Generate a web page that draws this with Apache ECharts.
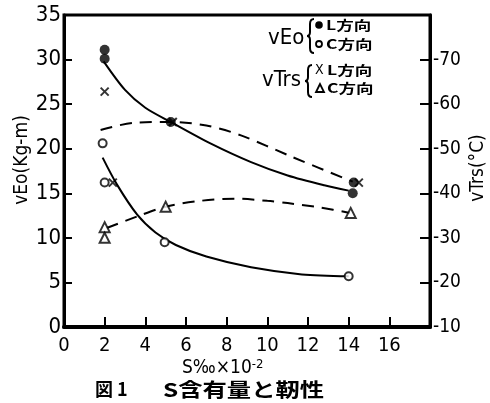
<!DOCTYPE html>
<html>
<head>
<meta charset="utf-8">
<script src="https://cdn.jsdelivr.net/npm/echarts@6/dist/echarts.min.js"></script>
<style>
  html, body { margin: 0; padding: 0; background: #fff; }
  #chart { width: 490px; height: 403px; }
</style>
</head>
<body>
<div id="chart"></div>
<script>
// x: S% x10^-2, left axis vEo (Kg-m), right axis vTrs (°C)
const xTicks = [0, 2, 4, 6, 8, 10, 12, 14, 16]
const veoTicks = [0, 5, 10, 15, 20, 25, 30, 35]
const trsTicks = [-70, -60, -50, -40, -30, -20, -10]

// measured points
const veoL = [[2, 31.1], [2, 30.1], [5.25, 23.0], [14.25, 16.2], [14.2, 15.0]]
const veoC = [[1.9, 20.6], [2.0, 16.2], [4.95, 9.5], [14.0, 5.7]]
const trsL = [[2.0, -62.8], [2.4, -42.4], [5.35, -56.0], [14.5, -42.4]]
const trsC = [[2.0, -32.4], [2.0, -30.0], [5.0, -37.0], [14.1, -35.6]]

// hand drawn trend curves
const veoLCurve = [[1.95, 29.8], [3, 26.6], [4, 24.6], [5.25, 23.0], [7.2, 20.6], [9.2, 18.5], [11, 17.0], [12.8, 15.9], [14.0, 15.3]]
const veoCCurve = [[1.9, 19.0], [2.6, 16.0], [3.6, 12.6], [4.5, 10.6], [5.5, 9.2], [7, 7.9], [9.2, 6.7], [11.7, 5.9], [14.0, 5.7]]
const trsLCurve = [[1.8, -54.2], [3.4, -55.8], [5.25, -56.0], [7, -55.2], [8.7, -53.0], [11.2, -48.2], [14.2, -42.6]]
const trsCCurve = [[2.1, -32.2], [3.6, -34.8], [5.0, -37.0], [6.7, -38.3], [8.4, -38.8], [10.0, -38.3], [11.0, -37.8], [12.6, -36.8], [14.06, -35.6]]

const numFont = "'DejaVu Sans Condensed', 'DejaVu Sans', sans-serif"
const cjkFont = "'Noto Sans CJK JP', sans-serif"

const chart = echarts.init(document.getElementById('chart'))

const curve = (data, yIndex, dashed) => ({
    type: 'line',
    yAxisIndex: yIndex,
    data,
    smooth: 0.3,
    showSymbol: false,
    silent: true,
    lineStyle: { color: '#000', width: 2, type: dashed ? [12, 8] : 'solid' }
})

const marks = (data, yIndex, symbol, size, filled) => ({
    type: 'scatter',
    yAxisIndex: yIndex,
    data,
    symbol,
    symbolSize: size,
    z: 5,
    itemStyle: filled
        ? { color: '#000' }
        : { color: '#fff', borderColor: '#000', borderWidth: 2 }
})

const crossPath = 'path://M0,0L10,10M10,0L0,10'

const keyText = (x, y, text) => ({
    type: 'text', x, y, scaleX: 1.35,
    style: { text, font: 'bold 13px ' + cjkFont, fill: '#000', textVerticalAlign: 'middle' }
})

// curly brace from top to bottom, tip pointing left
const brace = (x, top, bottom) => {
    const mid = (top + bottom) / 2
    const st = { fill: 'none', stroke: '#000', lineWidth: 2 }
    const q = (x1, y1, cpx1, cpy1, x2, y2) => ({ type: 'bezierCurve', shape: { x1, y1, cpx1, cpy1, x2, y2 }, style: st })
    const l = (x1, y1, x2, y2) => ({ type: 'line', shape: { x1, y1, x2, y2 }, style: st })
    return [
        q(x + 4, top, x, top, x, top + 5),
        l(x, top + 5, x, mid - 4),
        q(x, mid - 4, x, mid, x - 3, mid),
        q(x - 3, mid, x, mid, x, mid + 4),
        l(x, mid + 4, x, bottom - 5),
        q(x, bottom - 5, x, bottom, x + 4, bottom)
    ]
}

const option = {
    animation: false,
    backgroundColor: '#fff',
    grid: {
        left: 64, right: 60, top: 15, bottom: 76,
        show: true, borderColor: '#000', borderWidth: 3
    },
    xAxis: {
        type: 'value',
        min: 0, max: 18, interval: 2,
        axisLine: { lineStyle: { color: '#000', width: 4 } },
        axisTick: { inside: true, length: 10, lineStyle: { color: '#000', width: 2 } },
        splitLine: { show: false },
        axisLabel: {
            color: '#000', fontSize: 20, fontFamily: numFont, margin: 9,
            formatter: v => xTicks.includes(v) ? String(v) : ''
        }
    },
    yAxis: [
        {
            type: 'value',
            min: 0, max: 35, interval: 5,
            axisLine: { lineStyle: { color: '#000', width: 3 } },
            axisTick: { inside: true, length: 8, lineStyle: { color: '#000', width: 2 } },
            splitLine: { show: false },
            axisLabel: {
                color: '#000', fontSize: 22, fontFamily: numFont, margin: 3,
                formatter: v => veoTicks.includes(v) ? String(v) : ''
            }
        },
        {
            type: 'value',
            position: 'right',
            inverse: true,
            min: -80, max: -10, interval: 10,
            axisLine: { show: true, lineStyle: { color: '#000', width: 3 } },
            axisTick: { show: true, inside: true, length: 10, lineStyle: { color: '#000', width: 2 } },
            splitLine: { show: false },
            axisLabel: {
                color: '#000', fontSize: 19, fontFamily: numFont, margin: 3,
                formatter: v => trsTicks.includes(v) ? String(v) : ''
            }
        }
    ],
    graphic: [
        // axis names
        {
            type: 'text', x: 22, y: 160, rotation: Math.PI / 2,
            style: { text: 'vEo(Kg-m)', font: '19px ' + numFont, fill: '#000', textAlign: 'center', textVerticalAlign: 'middle' }
        },
        {
            type: 'text', x: 478, y: 168, rotation: Math.PI / 2,
            style: { text: 'vTrs(°C)', font: '19px ' + numFont, fill: '#000', textAlign: 'center', textVerticalAlign: 'middle' }
        },
        {
            type: 'text', x: 182, y: 358,
            style: {
                text: '{a|S‰×10}{b|-2}',
                rich: {
                    a: { fontSize: 19, fontFamily: numFont, fill: '#000', verticalAlign: 'bottom', lineHeight: 20 },
                    b: { fontSize: 13, fontFamily: numFont, fill: '#000', verticalAlign: 'top', lineHeight: 20 }
                }
            }
        },
        // caption
        {
            type: 'text', x: 95, y: 380,
            style: { text: '図 1', font: 'bold 18px ' + cjkFont, fill: '#000' }
        },
        {
            type: 'text', x: 163, y: 380, scaleX: 1.28,
            style: { text: 'S含有量と靭性', font: 'bold 19px ' + cjkFont, fill: '#000' }
        },
        // key, vEo group
        {
            type: 'text', x: 268, y: 38,
            style: { text: 'vEo', font: '22px ' + numFont, fill: '#000', textVerticalAlign: 'middle' }
        },
        ...brace(310, 19, 53),
        { type: 'circle', shape: { cx: 319, cy: 25, r: 3.8 }, style: { fill: '#000' } },
        { type: 'circle', shape: { cx: 319, cy: 44, r: 3 }, style: { fill: '#fff', stroke: '#000', lineWidth: 1.8 } },
        keyText(326, 25, 'L方向'),
        keyText(326, 44, 'C方向'),
        // key, vTrs group
        {
            type: 'text', x: 262, y: 80,
            style: { text: 'vTrs', font: '22px ' + numFont, fill: '#000', textVerticalAlign: 'middle' }
        },
        ...brace(308, 65, 97),
        {
            type: 'text', x: 315, y: 70,
            style: { text: 'X', font: '14px ' + numFont, fill: '#000', textVerticalAlign: 'middle' }
        },
        {
            type: 'polygon', shape: { points: [[320, 84], [316, 92], [324, 92]] },
            style: { fill: '#fff', stroke: '#000', lineWidth: 1.8 }
        },
        keyText(327, 70, 'L方向'),
        keyText(327, 88, 'C方向')
    ],
    series: [
        curve(veoLCurve, 0, false),
        curve(veoCCurve, 0, false),
        curve(trsLCurve, 1, true),
        curve(trsCCurve, 1, true),
        marks(veoL, 0, 'circle', 10, true),
        marks(veoC, 0, 'circle', 8, false),
        {
            type: 'scatter',
            yAxisIndex: 1,
            data: trsL,
            symbol: crossPath,
            symbolSize: 8,
            z: 6,
            itemStyle: { color: 'none', borderColor: '#000', borderWidth: 2 }
        },
        marks(trsC, 1, 'triangle', 10, false)
    ]
}

chart.setOption(option)
</script>
</body>
</html>
